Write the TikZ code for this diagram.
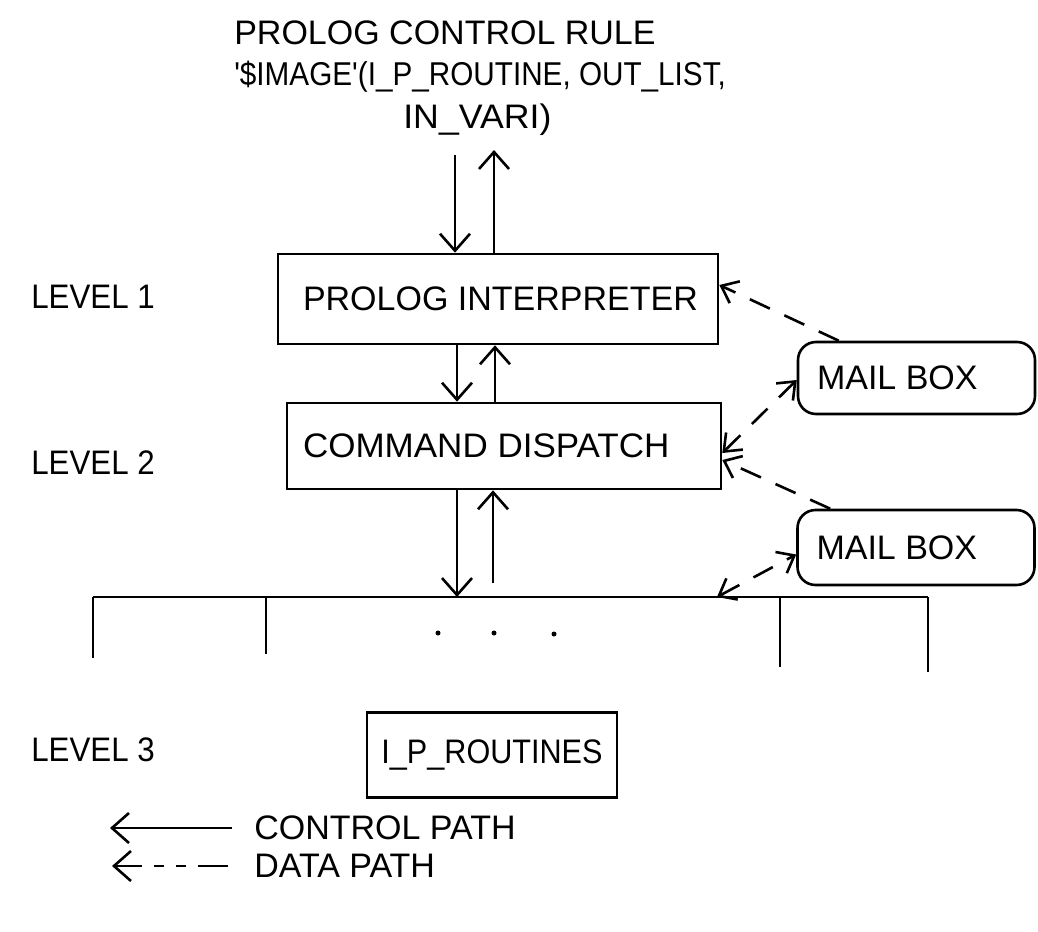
\documentclass[tikz,border=0pt]{standalone}
\usepackage{fontspec}
\usepackage{graphicx}
\setmainfont{Liberation Sans}
\usetikzlibrary{arrows.meta,calc}

\begin{document}
\begin{tikzpicture}[x=1pt,y=-1pt,
  line width=2.6pt,
  every node/.style={font=\fontsize{34}{40}\selectfont, inner sep=0pt},
  procbox/.style={draw, rectangle},
  mailbox/.style={draw, rectangle, rounded corners=18pt, inner xsep=19pt,
    minimum height=72pt},
  ctrl/.style={-{Straight Barb[length=17pt,width=30pt]}},
  dashline/.style={dash pattern=on 22pt off 16pt},
  dataone/.style={dashline, -{Straight Barb[length=15pt,width=24pt]}},
  datatwo/.style={dashline,
    {Straight Barb[length=15pt,width=24pt]}-{Straight Barb[length=15pt,width=24pt]}},
  label/.style={anchor=west}
]
\useasboundingbox (0,0) rectangle (1038,931);

% heading: the Prolog rule that calls the image routines
\node[label] (t1) at (233,33) {PROLOG CONTROL RULE};
\node[label, font=\fontsize{33}{40}\selectfont] (t2) at (233,77)
  {\scalebox{0.9}[1]{\textquotesingle\$IMAGE\textquotesingle(I\_P\_ROUTINE, OUT\_LIST,}};
\node[label] (t3) at (402,120) {\scalebox{1.05}[1]{IN\_VARI)}};

% level captions
\node[label] (lv1) at (30,297) {\scalebox{0.92}[1]{LEVEL 1}};
\node[label] (lv2) at (30,463) {\scalebox{0.92}[1]{LEVEL 2}};
\node[label] (lv3) at (30,750) {\scalebox{0.92}[1]{LEVEL 3}};

% processing blocks
\node[procbox, minimum height=90pt, inner xsep=25pt] (interp) at (498,299)
  {\makebox[390pt][l]{PROLOG INTERPRETER}};
\node[procbox, minimum height=86pt, inner xsep=16pt] (disp) at (504,446)
  {\makebox[402pt][l]{\scalebox{1.03}[1]{COMMAND DISPATCH}}};
\node[procbox, minimum width=250pt, minimum height=85pt] (iproc) at (492,755)
  {\scalebox{0.9}[1]{I\_P\_ROUTINES}};

% mail boxes
\node[mailbox] (mb1) at (916.5,378) {\makebox[199pt][l]{MAIL BOX}};
\node[mailbox, minimum height=75pt] (mb2) at (916,547.5) {\makebox[199pt][l]{MAIL BOX}};

% columns of the control arrows
\coordinate (topdn) at (455,155);
\coordinate (topup) at (494,150);
\coordinate (dnx) at (457,0);
\coordinate (upx) at (495,0);
\coordinate (upstart) at (493,583);

% control path: rule <-> interpreter
\draw[ctrl] (topdn) -- (topdn |- interp.north);
\draw[ctrl] (topup |- interp.north) -- (topup);
% interpreter <-> dispatcher
\draw[ctrl] (interp.south -| dnx) -- (disp.north -| dnx);
\draw[ctrl] (disp.north -| upx) -- (interp.south -| upx);

% routine bus
\coordinate (barL) at (93,597);
\coordinate (barR) at (928,597);
\coordinate (barA) at (266,597);
\coordinate (barB) at (780,597);
\coordinate (barM) at (717,597);
\draw (barL) -- (barR);
\draw (barL) -- ++(0,61);
\draw (barA) -- ++(0,57);
\draw (barB) -- ++(0,70);
\draw (barR) -- ++(0,75);
\fill (438,633) circle (2.5pt);
\fill (494,633) circle (2.5pt);
\fill (554,634) circle (2.5pt);

% dispatcher <-> bus
\draw[ctrl] (disp.south -| dnx) -- (dnx |- barL);
\draw[ctrl] (upstart) -- (upstart |- disp.south);

% data paths through the mail boxes
\draw[dataone] ($(mb1.north west)+(42,0)$) -- ($(interp.east)+(0,-14)$);
\draw[datatwo] ($(disp.east)+(0,7)$) -- ($(mb1.west)+(0,2)$);
\draw[dataone] ($(mb2.north west)+(34,0)$) -- ($(disp.east)+(0,14)$);
\draw[datatwo] (barM) -- ($(mb2.west)+(0,7)$);

% legend
\coordinate (cpL) at (110,828);
\coordinate (cpR) at (232,828);
\draw[-{Straight Barb[length=17pt,width=30pt]}] (cpR) -- (cpL);
\node[label] (cpT) at (253,828) {CONTROL PATH};
\coordinate (dpL) at (112,866);
\coordinate (dpR) at (228,866);
\draw[dash pattern=on 30pt off 12pt on 10pt off 12pt on 10pt off 12pt on 40pt,
  -{Straight Barb[length=17pt,width=30pt]}] (dpR) -- (dpL);
\node[label] (dpT) at (253,866) {DATA PATH};
\end{tikzpicture}
\end{document}
